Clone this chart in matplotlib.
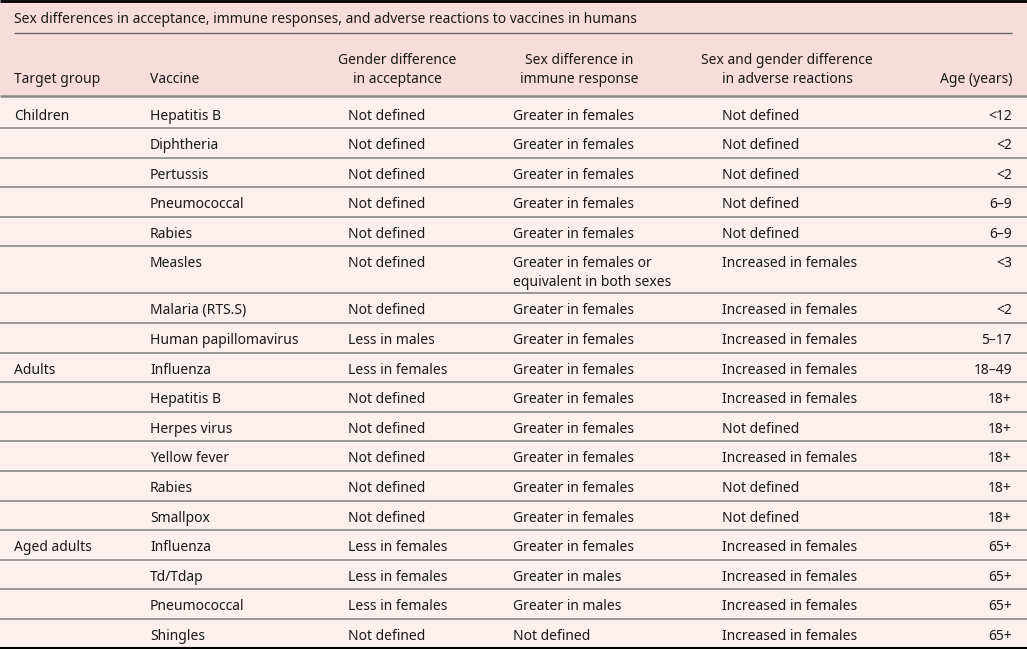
import matplotlib.pyplot as plt
from matplotlib.patches import Rectangle

plt.rcParams['font.family'] = ['Noto Sans', 'DejaVu Sans']

title = 'Sex differences in acceptance, immune responses, and adverse reactions to vaccines in humans'
headers = ['Target group', 'Vaccine', 'Gender difference\nin acceptance',
           'Sex difference in\nimmune response',
           'Sex and gender difference\nin adverse reactions', 'Age (years)']

groups = ['Children', '', '', '', '', '', '', '',
          'Adults', '', '', '', '', '',
          'Aged adults', '', '', '']
vaccines = ['Hepatitis B', 'Diphtheria', 'Pertussis', 'Pneumococcal', 'Rabies', 'Measles',
            'Malaria (RTS.S)', 'Human papillomavirus',
            'Influenza', 'Hepatitis B', 'Herpes virus', 'Yellow fever', 'Rabies', 'Smallpox',
            'Influenza', 'Td/Tdap', 'Pneumococcal', 'Shingles']
acceptance = ['Not defined'] * 7 + ['Less in males', 'Less in females'] + ['Not defined'] * 5 + \
             ['Less in females'] * 3 + ['Not defined']
immune = ['Greater in females'] * 5 + ['Greater in females or\nequivalent in both sexes'] + \
         ['Greater in females'] * 9 + ['Greater in males', 'Greater in males', 'Not defined']
adverse = ['Not defined'] * 5 + ['Increased in females'] * 5 + ['Not defined', 'Increased in females',
           'Not defined', 'Not defined'] + ['Increased in females'] * 4
ages = ['<12', '<2', '<2', '6–9', '6–9', '<3', '<2', '5–17',
        '18–49', '18+', '18+', '18+', '18+', '18+',
        '65+', '65+', '65+', '65+']

W, H = 1027, 649
fig = plt.figure(figsize=(W / 100, H / 100), dpi=100)
ax = fig.add_axes([0, 0, 1, 1])
ax.set_xlim(0, W)
ax.set_ylim(H, 0)
ax.axis('off')

head_bg = '#f7dcdb'
body_bg = '#fcf0ef'
line_c = '#8a8a8a'
txt_c = '#1a1a1a'
fs = 10
lead = 18.5  # line spacing in px

header_bottom = 96
ax.add_patch(Rectangle((0, 0), W, header_bottom, color=head_bg, zorder=0))
ax.add_patch(Rectangle((0, header_bottom), W, H - header_bottom, color=body_bg, zorder=0))

ax.hlines(1, 0, W, color='black', lw=2)
ax.hlines(647.5, 0, W, color='black', lw=1.5)
ax.text(14, 23, title, fontsize=fs, color=txt_c, va='baseline')
ax.hlines(33, 14, 1012, color='#666666', lw=1)
ax.hlines(header_bottom, 0, W, color=line_c, lw=1.8)

col_x = [14, 150, 397, 579, 787, 1012]
col_ha = ['left', 'left', 'center', 'center', 'center', 'right']
for x, ha, h in zip(col_x, col_ha, headers):
    lines = h.split('\n')
    for k, ln in enumerate(lines):
        ax.text(x, 83 - (len(lines) - 1 - k) * lead, ln, fontsize=fs, color=txt_c,
                ha=ha, va='baseline')

cell_x = [14, 150, 348, 513, 722, 1012]
cell_ha = ['left', 'left', 'left', 'left', 'left', 'right']
y = header_bottom
std_h, tall_h = 29.6, 47
for i in range(len(vaccines)):
    row = [groups[i], vaccines[i], acceptance[i], immune[i], adverse[i], ages[i]]
    rh = tall_h if '\n' in immune[i] else std_h
    top_pad = 21
    if i == 0:
        rh += 2.4
        top_pad += 2.6
    for x, ha, v in zip(cell_x, cell_ha, row):
        for k, ln in enumerate(v.split('\n')):
            ax.text(x, y + top_pad + k * lead, ln, fontsize=fs, color=txt_c,
                    ha=ha, va='baseline')
    y += rh
    if i < len(vaccines) - 1:
        ax.hlines(y, 0, W, color=line_c, lw=1.2)

fig.savefig('out.png', dpi=100)
